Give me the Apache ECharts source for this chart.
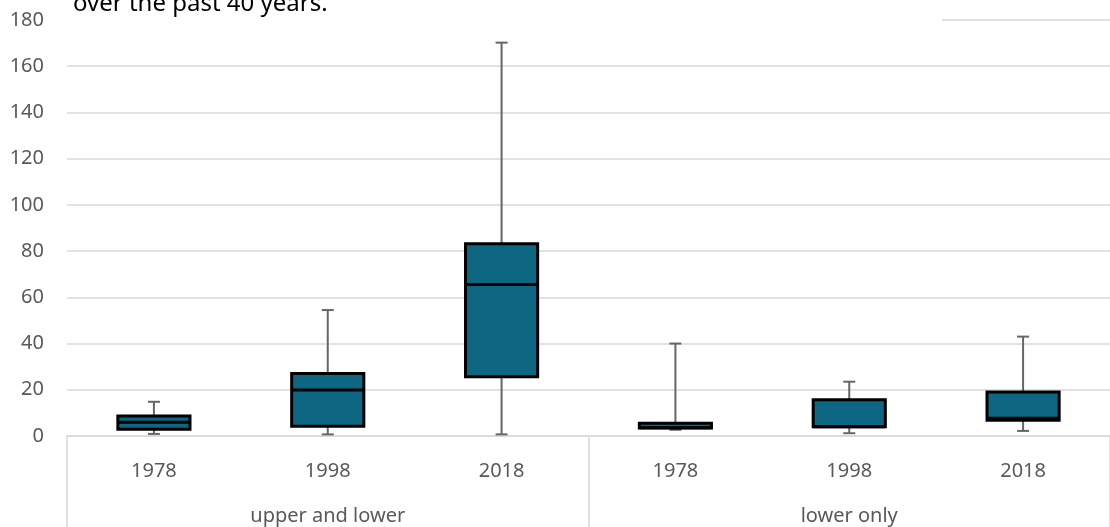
<!DOCTYPE html>
<html>
<head>
<meta charset="utf-8">
<script src="https://cdn.jsdelivr.net/npm/echarts@6/dist/echarts.min.js"></script>
<style>
html,body{margin:0;padding:0;background:#fff;}
#chart{width:1110px;height:527px;}
</style>
</head>
<body>
<div id="chart"></div>
<script>
// ---- data ----
const years = ['1978', '1998', '2018', '1978', '1998', '2018'];
const groups = ['upper and lower', 'lower only'];
const whiskerMin = [0.9, 0.7, 0.7, 2.7, 1.2, 2.2];
const q1 = [2.9, 4.2, 25.6, 3.5, 4.0, 6.8];
const median = [5.9, 19.9, 65.6, 3.6, 4.0, 7.7];
const q3 = [8.7, 27.0, 83.2, 5.5, 15.7, 19.0];
const whiskerMax = [14.8, 54.5, 170.2, 40, 23.5, 43];
const yTicks = { min: 0, max: 180, interval: 20 };
const titleText = 'over the past 40 years.';

const boxData = years.map((y, i) => [i, whiskerMin[i], q1[i], median[i], q3[i], whiskerMax[i]]);

const labelFont = '"Noto Sans", "Liberation Sans", sans-serif';

function renderBox(params, api) {
  const idx = api.value(0);
  const cx = api.coord([idx, 0])[0];
  const yv = (k) => api.coord([idx, api.value(k)])[1];
  const yMin = yv(1), yQ1 = yv(2), yMed = yv(3), yQ3 = yv(4), yMax = yv(5);
  const band = api.size([1, 0])[0];
  const bw = band * 0.415;
  const cap = 12;
  const wStyle = { stroke: '#666666', lineWidth: 2, fill: null };
  const bStyle = { stroke: '#000000', lineWidth: 3 };
  return {
    type: 'group',
    children: [
      { type: 'line', shape: { x1: cx, y1: yQ3, x2: cx, y2: yMax }, style: wStyle },
      { type: 'line', shape: { x1: cx - cap / 2, y1: yMax, x2: cx + cap / 2, y2: yMax }, style: wStyle },
      { type: 'line', shape: { x1: cx, y1: yMin, x2: cx, y2: yQ1 }, style: wStyle },
      { type: 'line', shape: { x1: cx - cap / 2, y1: yMin, x2: cx + cap / 2, y2: yMin }, style: wStyle },
      { type: 'rect', shape: { x: cx - bw / 2, y: yQ3, width: bw, height: yQ1 - yQ3 },
        style: { fill: '#0E6782', stroke: '#000000', lineWidth: 3 } },
      { type: 'line', shape: { x1: cx - bw / 2, y1: yMed, x2: cx + bw / 2, y2: yMed }, style: bStyle }
    ]
  };
}

const chart = echarts.init(document.getElementById('chart'), null, { renderer: 'canvas' });
chart.setOption({
  animation: false,
  backgroundColor: '#ffffff',
  grid: { left: 67, right: 0, top: 20, bottom: 91, containLabel: false },
  xAxis: [
    {
      type: 'category',
      data: years,
      position: 'bottom',
      axisLine: { show: true, lineStyle: { color: '#D9D9D9', width: 1.5 } },
      axisTick: { show: false },
      axisLabel: { color: '#595959', fontFamily: labelFont, fontSize: 20, margin: 25, interval: 0 },
      splitLine: { show: false }
    },
    {
      type: 'category',
      data: groups,
      position: 'bottom',
      axisLine: { show: false },
      axisTick: { show: true, length: 91, lineStyle: { color: '#D9D9D9', width: 1.5 } },
      axisLabel: { color: '#595959', fontFamily: labelFont, fontSize: 20, margin: 70, interval: 0 },
      splitLine: { show: false }
    }
  ],
  yAxis: {
    type: 'value',
    min: yTicks.min, max: yTicks.max, interval: yTicks.interval,
    axisLine: { show: false },
    axisTick: { show: false },
    axisLabel: { color: '#595959', fontFamily: labelFont, fontSize: 20, margin: 23 },
    splitLine: { show: true, lineStyle: { color: '#D9D9D9', width: 1.5 } }
  },
  series: [{
    type: 'custom',
    xAxisIndex: 0,
    renderItem: renderBox,
    encode: { x: 0, y: [1, 2, 3, 4, 5] },
    data: boxData,
    clip: false
  }],
  graphic: [
    { type: 'rect', z: 100, shape: { x: 60, y: 0, width: 882, height: 23 }, style: { fill: '#ffffff' } },
    { type: 'text', z: 101, x: 73, y: 4,
      style: { text: titleText, fill: '#000000', font: '24px "Noto Sans", sans-serif', verticalAlign: 'middle' } }
  ]
});
</script>
</body>
</html>
